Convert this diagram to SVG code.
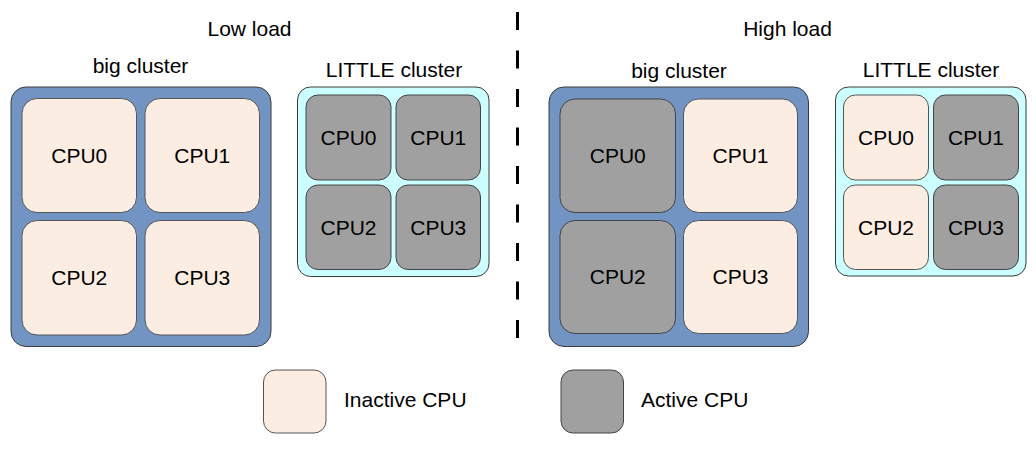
<svg xmlns="http://www.w3.org/2000/svg" width="1036" height="450" viewBox="0 0 1036 450">
<style>
text{font-family:"Liberation Sans",Arial,sans-serif;fill:#000}
.t{font-size:21px;text-anchor:middle}
.lg{font-size:21px}
.c{font-size:21px;text-anchor:middle}
.big{fill:#7294c2;stroke:#3a3a3a;stroke-width:1}
.lit{fill:#ccffff;stroke:#3a3a3a;stroke-width:1}
.in{fill:#fcede3;stroke:#555;stroke-width:1}
.ac{fill:#a0a0a0;stroke:#444;stroke-width:1}
</style>
<rect width="1036" height="450" fill="#fff"/>
<text class="t" x="249.5" y="36">Low load</text>
<text class="t" x="787.5" y="36">High load</text>

<g id="connectors">
<line x1="517.5" y1="12" x2="517.5" y2="348" stroke="#000" stroke-width="3" stroke-dasharray="18,20.5"/>
</g>

<g id="low-big">
<text class="t" x="140.5" y="73">big cluster</text>
<rect class="big" x="11" y="87" width="260" height="259.5" rx="15"/>
<g id="low-big-cpu0"><rect class="in" x="22" y="98.5" width="114.5" height="114" rx="15"/><text class="c" x="79.25" y="163">CPU0</text></g>
<g id="low-big-cpu1"><rect class="in" x="145" y="98.5" width="114.5" height="114" rx="15"/><text class="c" x="202.25" y="163">CPU1</text></g>
<g id="low-big-cpu2"><rect class="in" x="22" y="220.5" width="114.5" height="114.5" rx="15"/><text class="c" x="79.25" y="285">CPU2</text></g>
<g id="low-big-cpu3"><rect class="in" x="145" y="220.5" width="114.5" height="114.5" rx="15"/><text class="c" x="202.25" y="285">CPU3</text></g>
</g>

<g id="low-little">
<text class="t" x="394" y="77">LITTLE cluster</text>
<rect class="lit" x="297.5" y="87" width="191.5" height="189.5" rx="13"/>
<g id="low-little-cpu0"><rect class="ac" x="306" y="95" width="85" height="85" rx="12"/><text class="c" x="348.5" y="145">CPU0</text></g>
<g id="low-little-cpu1"><rect class="ac" x="396" y="95" width="84.5" height="85" rx="12"/><text class="c" x="438.25" y="145">CPU1</text></g>
<g id="low-little-cpu2"><rect class="ac" x="306" y="185" width="85" height="84.5" rx="12"/><text class="c" x="348.5" y="234.5">CPU2</text></g>
<g id="low-little-cpu3"><rect class="ac" x="396" y="185" width="84.5" height="84.5" rx="12"/><text class="c" x="438.25" y="234.5">CPU3</text></g>
</g>

<g id="high-big">
<text class="t" x="679" y="78">big cluster</text>
<rect class="big" x="549" y="87" width="259.5" height="259.5" rx="15"/>
<g id="high-big-cpu0"><rect class="ac" x="560" y="99" width="115.5" height="113.5" rx="15"/><text class="c" x="617.75" y="163">CPU0</text></g>
<g id="high-big-cpu1"><rect class="in" x="683.5" y="99" width="114" height="113.5" rx="15"/><text class="c" x="740.5" y="163">CPU1</text></g>
<g id="high-big-cpu2"><rect class="ac" x="560" y="220.5" width="115.5" height="113" rx="15"/><text class="c" x="617.75" y="284">CPU2</text></g>
<g id="high-big-cpu3"><rect class="in" x="683.5" y="220.5" width="114" height="113" rx="15"/><text class="c" x="740.5" y="284">CPU3</text></g>
</g>

<g id="high-little">
<text class="t" x="931" y="77">LITTLE cluster</text>
<rect class="lit" x="835.5" y="87" width="190.5" height="189" rx="13"/>
<g id="high-little-cpu0"><rect class="in" x="843.5" y="95" width="85" height="85" rx="12"/><text class="c" x="886" y="145">CPU0</text></g>
<g id="high-little-cpu1"><rect class="ac" x="933.5" y="95" width="85" height="85" rx="12"/><text class="c" x="976" y="145">CPU1</text></g>
<g id="high-little-cpu2"><rect class="in" x="843.5" y="185" width="85" height="84.5" rx="12"/><text class="c" x="886" y="234.5">CPU2</text></g>
<g id="high-little-cpu3"><rect class="ac" x="933.5" y="185" width="85" height="84.5" rx="12"/><text class="c" x="976" y="234.5">CPU3</text></g>
</g>

<g id="legend-inactive">
<rect class="in" x="263.5" y="370" width="62.5" height="63" rx="12"/>
<text class="lg" x="344" y="407">Inactive CPU</text>
</g>
<g id="legend-active">
<rect class="ac" x="561" y="370" width="62.5" height="63" rx="12"/>
<text class="lg" x="641" y="407">Active CPU</text>
</g>
</svg>
